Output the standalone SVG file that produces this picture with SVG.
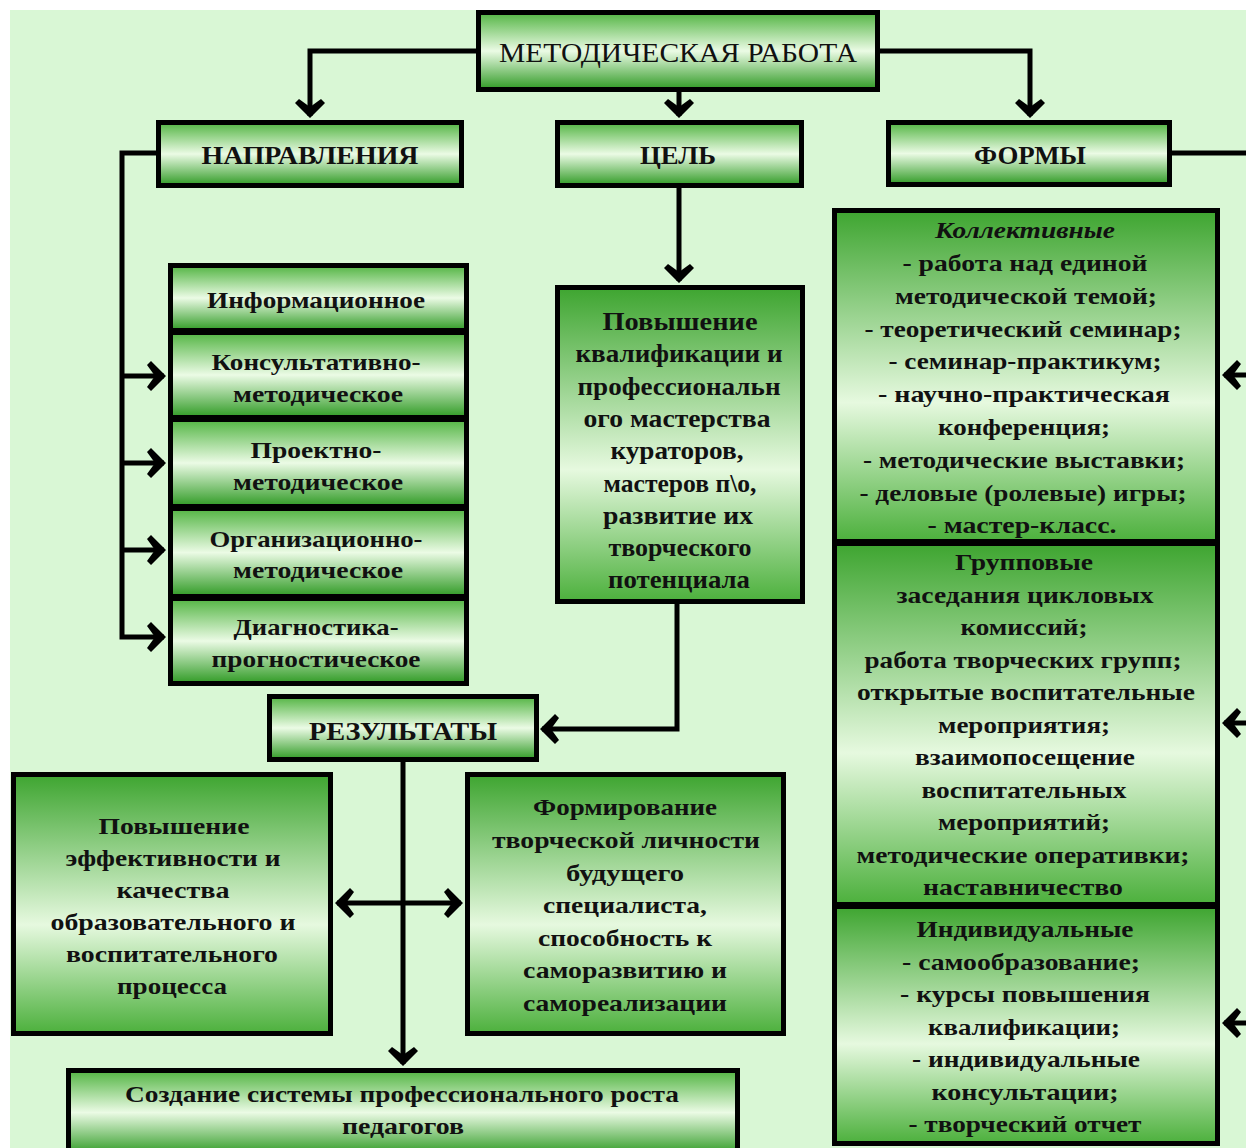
<svg xmlns="http://www.w3.org/2000/svg" width="1246" height="1148" viewBox="0 0 1246 1148">
<defs>
<linearGradient id="gS" x1="0" y1="0" x2="0" y2="1">
<stop offset="0" stop-color="#52b442"/>
<stop offset="0.5" stop-color="#ebfbe5"/>
<stop offset="1" stop-color="#2f9a24"/>
</linearGradient>
<linearGradient id="gT" x1="0" y1="0" x2="0" y2="1">
<stop offset="0" stop-color="#3ea530"/>
<stop offset="0.58" stop-color="#e6f9df"/>
<stop offset="1" stop-color="#4cb03c"/>
</linearGradient>
<marker id="ah" markerUnits="userSpaceOnUse" markerWidth="40" markerHeight="40" viewBox="-20 -20 40 40" refX="0" refY="0" orient="auto-start-reverse" overflow="visible">
<path d="M2,0 L-13,-15 L-17,-11 L-9,0 L-17,11 L-13,15 Z" fill="#000"/>
</marker>
</defs>
<style>
.bs{fill:url(#gS);stroke:#000;stroke-width:5}
.bt{fill:url(#gT);stroke:#000;stroke-width:5}
text{font-family:"Liberation Serif","Times New Roman",serif;fill:#111;text-anchor:middle;font-weight:bold;font-size:24px}
.h{font-size:25px}
.m{font-size:25px}
.c{fill:none;stroke:#000;stroke-width:5;stroke-linejoin:miter}
.a{marker-end:url(#ah)}
.d{marker-start:url(#ah);marker-end:url(#ah)}
</style>
<rect x="0" y="0" width="1246" height="1148" fill="#ffffff"/>
<rect x="10" y="10" width="1236" height="1138" fill="#d9f7d5"/>

<g id="connectors">
<path class="c a" d="M476,51 H310 V116"/>
<path class="c a" d="M679,92 V116"/>
<path class="c a" d="M880,51 H1030 V116"/>
<path class="c" d="M1172,153 H1250"/>
<path class="c a" d="M156,153 H122 V637 H164"/>
<path class="c a" d="M122,376 H164"/>
<path class="c a" d="M122,463 H164"/>
<path class="c a" d="M122,550 H164"/>
<path class="c a" d="M679,188 V281"/>
<path class="c a" d="M677,604 V729 H542"/>
<path class="c a" d="M403,762 V1064"/>
<path class="c d" d="M337,903 H461"/>
<path class="c a" d="M1250,375 H1224"/>
<path class="c a" d="M1250,723 H1224"/>
<path class="c a" d="M1250,1023 H1224"/>
</g>

<g id="metod">
<rect class="bs" x="478.5" y="12.5" width="399" height="77"/>
<text x="678" y="62" style="font-weight:normal;font-size:27px" textLength="358" lengthAdjust="spacingAndGlyphs">МЕТОДИЧЕСКАЯ РАБОТА</text>
</g>
<g id="napravleniya">
<rect class="bs" x="158.5" y="122.5" width="303" height="63"/>
<text class="h" x="310" y="164" textLength="217" lengthAdjust="spacingAndGlyphs">НАПРАВЛЕНИЯ</text>
</g>
<g id="cel">
<rect class="bs" x="557.5" y="122.5" width="244" height="63"/>
<text class="h" x="678" y="164" textLength="76" lengthAdjust="spacingAndGlyphs">ЦЕЛЬ</text>
</g>
<g id="formy">
<rect class="bs" x="888.5" y="122.5" width="281" height="62"/>
<text class="h" x="1030" y="164" textLength="112" lengthAdjust="spacingAndGlyphs">ФОРМЫ</text>
</g>

<g id="info">
<rect class="bs" x="170.5" y="265.5" width="296" height="65"/>
<text x="316" y="308" textLength="218" lengthAdjust="spacingAndGlyphs">Информационное</text>
</g>
<g id="konsult">
<rect class="bs" x="170.5" y="332.5" width="296" height="85"/>
<text x="316" y="370" textLength="209" lengthAdjust="spacingAndGlyphs">Консультативно-</text>
<text x="318" y="402" textLength="170" lengthAdjust="spacingAndGlyphs">методическое</text>
</g>
<g id="proekt">
<rect class="bs" x="170.5" y="419.5" width="296" height="87"/>
<text x="316" y="458" textLength="131" lengthAdjust="spacingAndGlyphs">Проектно-</text>
<text x="318" y="490" textLength="170" lengthAdjust="spacingAndGlyphs">методическое</text>
</g>
<g id="organiz">
<rect class="bs" x="170.5" y="508.5" width="296" height="88"/>
<text x="316" y="547" textLength="213" lengthAdjust="spacingAndGlyphs">Организационно-</text>
<text x="318" y="578" textLength="170" lengthAdjust="spacingAndGlyphs">методическое</text>
</g>
<g id="diagn">
<rect class="bs" x="170.5" y="598.5" width="296" height="85"/>
<text x="316" y="635" textLength="165" lengthAdjust="spacingAndGlyphs">Диагностика-</text>
<text x="316" y="667" textLength="209" lengthAdjust="spacingAndGlyphs">прогностическое</text>
</g>

<g id="povyshenie">
<rect class="bt" x="557.5" y="287.5" width="245" height="314"/>
<text class="m" x="680" y="330" textLength="155" lengthAdjust="spacingAndGlyphs">Повышение</text>
<text class="m" x="679" y="362" textLength="207" lengthAdjust="spacingAndGlyphs">квалификации и</text>
<text class="m" x="679" y="395" textLength="203" lengthAdjust="spacingAndGlyphs">профессиональн</text>
<text class="m" x="677" y="427" textLength="187" lengthAdjust="spacingAndGlyphs">ого мастерства</text>
<text class="m" x="677" y="459" textLength="133" lengthAdjust="spacingAndGlyphs">кураторов,</text>
<text class="m" x="680" y="492" textLength="153" lengthAdjust="spacingAndGlyphs">мастеров п\о,</text>
<text class="m" x="678" y="524" textLength="150" lengthAdjust="spacingAndGlyphs">развитие их</text>
<text class="m" x="680" y="556" textLength="143" lengthAdjust="spacingAndGlyphs">творческого</text>
<text class="m" x="679" y="588" textLength="142" lengthAdjust="spacingAndGlyphs">потенциала</text>
</g>

<g id="rezultaty">
<rect class="bs" x="269.5" y="696.5" width="267" height="63"/>
<text class="h" x="403" y="740" textLength="188" lengthAdjust="spacingAndGlyphs">РЕЗУЛЬТАТЫ</text>
</g>

<g id="res-left">
<rect class="bt" x="13.5" y="774.5" width="317" height="259"/>
<text x="174" y="834" textLength="151" lengthAdjust="spacingAndGlyphs">Повышение</text>
<text x="173" y="866" textLength="215" lengthAdjust="spacingAndGlyphs">эффективности и</text>
<text x="173" y="898" textLength="113" lengthAdjust="spacingAndGlyphs">качества</text>
<text x="173" y="930" textLength="245" lengthAdjust="spacingAndGlyphs">образовательного и</text>
<text x="172" y="962" textLength="212" lengthAdjust="spacingAndGlyphs">воспитательного</text>
<text x="172" y="994" textLength="110" lengthAdjust="spacingAndGlyphs">процесса</text>
</g>
<g id="res-right">
<rect class="bt" x="467.5" y="774.5" width="316" height="259"/>
<text x="625" y="815" textLength="184" lengthAdjust="spacingAndGlyphs">Формирование</text>
<text x="626" y="848" textLength="268" lengthAdjust="spacingAndGlyphs">творческой личности</text>
<text x="625" y="881" textLength="118" lengthAdjust="spacingAndGlyphs">будущего</text>
<text x="625" y="913" textLength="164" lengthAdjust="spacingAndGlyphs">специалиста,</text>
<text x="625" y="946" textLength="174" lengthAdjust="spacingAndGlyphs">способность к</text>
<text x="625" y="978" textLength="204" lengthAdjust="spacingAndGlyphs">саморазвитию и</text>
<text x="625" y="1011" textLength="204" lengthAdjust="spacingAndGlyphs">самореализации</text>
</g>

<g id="sozdanie">
<rect class="bs" x="68.5" y="1070.5" width="669" height="84"/>
<text x="402" y="1102" textLength="554" lengthAdjust="spacingAndGlyphs">Создание системы профессионального роста</text>
<text x="403" y="1134" textLength="122" lengthAdjust="spacingAndGlyphs">педагогов</text>
</g>

<g id="kollektivnye">
<rect class="bt" x="834.5" y="210.5" width="383" height="331"/>
<text x="1025" y="238" style="font-style:italic" textLength="180" lengthAdjust="spacingAndGlyphs">Коллективные</text>
<text x="1025" y="271" textLength="245" lengthAdjust="spacingAndGlyphs">- работа над единой</text>
<text x="1026" y="304" textLength="262" lengthAdjust="spacingAndGlyphs">методической темой;</text>
<text x="1023" y="337" textLength="317" lengthAdjust="spacingAndGlyphs">- теоретический семинар;</text>
<text x="1025" y="369" textLength="273" lengthAdjust="spacingAndGlyphs">- семинар-практикум;</text>
<text x="1024" y="402" textLength="292" lengthAdjust="spacingAndGlyphs">- научно-практическая</text>
<text x="1024" y="435" textLength="172" lengthAdjust="spacingAndGlyphs">конференция;</text>
<text x="1024" y="468" textLength="322" lengthAdjust="spacingAndGlyphs">- методические выставки;</text>
<text x="1023" y="501" textLength="327" lengthAdjust="spacingAndGlyphs">- деловые (ролевые) игры;</text>
<text x="1022" y="533" textLength="189" lengthAdjust="spacingAndGlyphs">- мастер-класс.</text>
</g>
<g id="gruppovye">
<rect class="bt" x="834.5" y="543.5" width="383" height="361"/>
<text x="1024" y="570" textLength="138" lengthAdjust="spacingAndGlyphs">Групповые</text>
<text x="1025" y="603" textLength="257" lengthAdjust="spacingAndGlyphs">заседания цикловых</text>
<text x="1024" y="635" textLength="127" lengthAdjust="spacingAndGlyphs">комиссий;</text>
<text x="1023" y="668" textLength="317" lengthAdjust="spacingAndGlyphs">работа творческих групп;</text>
<text x="1026" y="700" textLength="338" lengthAdjust="spacingAndGlyphs">открытые воспитательные</text>
<text x="1024" y="733" textLength="172" lengthAdjust="spacingAndGlyphs">мероприятия;</text>
<text x="1025" y="765" textLength="220" lengthAdjust="spacingAndGlyphs">взаимопосещение</text>
<text x="1024" y="798" textLength="205" lengthAdjust="spacingAndGlyphs">воспитательных</text>
<text x="1024" y="830" textLength="172" lengthAdjust="spacingAndGlyphs">мероприятий;</text>
<text x="1023" y="863" textLength="333" lengthAdjust="spacingAndGlyphs">методические оперативки;</text>
<text x="1023" y="895" textLength="200" lengthAdjust="spacingAndGlyphs">наставничество</text>
</g>
<g id="individualnye">
<rect class="bt" x="834.5" y="906.5" width="383" height="237"/>
<text x="1025" y="937" textLength="217" lengthAdjust="spacingAndGlyphs">Индивидуальные</text>
<text x="1021" y="970" textLength="238" lengthAdjust="spacingAndGlyphs">- самообразование;</text>
<text x="1025" y="1002" textLength="250" lengthAdjust="spacingAndGlyphs">- курсы повышения</text>
<text x="1024" y="1035" textLength="192" lengthAdjust="spacingAndGlyphs">квалификации;</text>
<text x="1026" y="1067" textLength="228" lengthAdjust="spacingAndGlyphs">- индивидуальные</text>
<text x="1025" y="1100" textLength="187" lengthAdjust="spacingAndGlyphs">консультации;</text>
<text x="1025" y="1132" textLength="233" lengthAdjust="spacingAndGlyphs">- творческий отчет</text>
</g>
</svg>
